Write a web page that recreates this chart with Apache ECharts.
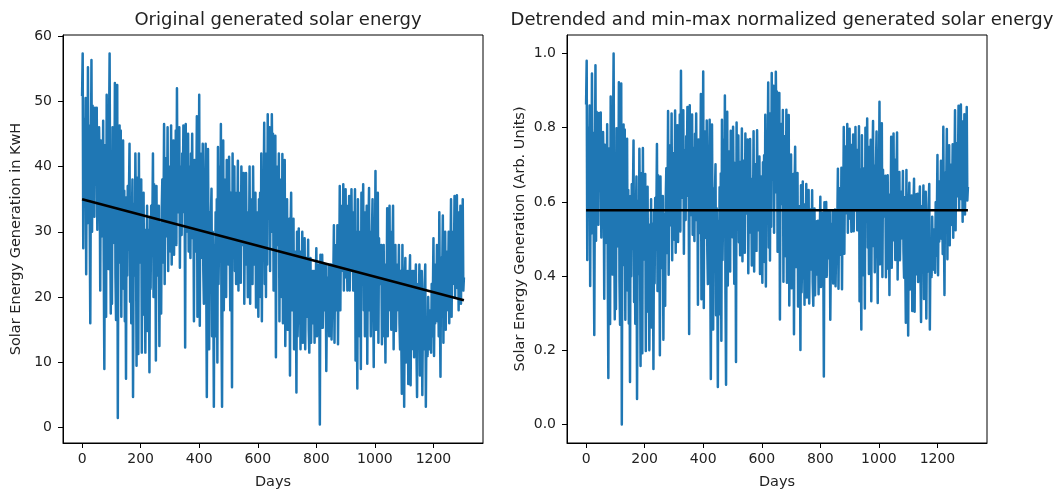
<!DOCTYPE html>
<html>
<head>
<meta charset="utf-8">
<script src="https://cdn.jsdelivr.net/npm/echarts@6/dist/echarts.min.js"></script>
<style>
  html, body { margin: 0; padding: 0; background: #ffffff; }
  #chart { width: 1053px; height: 495px; }
</style>
</head>
<body>
<div id="chart"></div>
<script>
// Panel texts
const panelTitles = ['Original generated solar energy', 'Detrended and min-max normalized generated solar energy'];
const xAxisName = 'Days';
const yAxisNames = ['Solar Energy Generation in KwH', 'Solar Energy Generation (Arb. Units)'];

// Tick labels
const dayTicks = [0, 200, 400, 600, 800, 1000, 1200];
const kwhTicks = [0, 10, 20, 30, 40, 50, 60];
const normTicks = [0, 0.2, 0.4, 0.6, 0.8, 1.0];

// Daily generation (KwH), one reading every second day starting at day 0
const dayStep = 2;
const generatedKwh = [
  50.8, 57.3, 27.5, 47.3, 37.3,   34.3, 50.5, 23.5, 45.3, 31.3,   55.2, 35.3, 46.3, 31.3, 16,   39.3, 56.3, 30, 49.3, 36.3,   45.3, 32.3, 49, 37.3, 42,
  49, 30.3, 41.3, 34.3, 46,   39.3, 21, 44, 29.3, 35.3,   31.3, 47, 25.3, 9, 37.3,   43.3, 17, 51, 26.3, 34.3,   24.3, 45.3, 57.3, 31.3, 17.5,
  39.3, 19, 46, 28.3, 36.3,   31.3, 52.8, 23.3, 16.5, 41.3,   52.5, 1.5, 34.3, 25.3, 46.3,   29.3, 45.5, 17, 37.3, 32.3,   44, 21.3, 36.3, 16.3, 31.3,
  7.5, 35.3, 23.3, 37, 27.3,   35.3, 43.5, 19.3, 30.3, 16,   31.3, 38, 4.7, 26.3, 34.3,   23.3, 42, 31.3, 9.5, 37.3,   38.3, 11.3, 42, 25.3, 31.3,
  29.3, 38, 11.5, 34.3, 21.3,   36, 17.3, 30.3, 11.5, 25.3,   23.3, 34, 14.8, 30.3, 28.3,   8.5, 32.3, 21.3, 34, 26.3,   31.3, 42, 20, 37.3, 27.3,
  34.3, 10.3, 37, 23.3, 29.3,   26.3, 34, 12.5, 31.3, 21.3,   17.5, 33.3, 38, 25.3, 31.3,   46.5, 22, 36.3, 29.3, 41.3,   31.3, 46, 24, 39.3, 35.3,
  40, 27, 46.3, 25, 36,   34, 44, 26.5, 38, 31,   45.5, 28, 52, 33, 38,   35, 46, 24.5, 40, 30,   29.5, 42, 36, 46.3, 33,
  40, 12.3, 46.5, 30, 36,   33, 45, 27, 40, 30,   26, 42, 34, 45, 29,   38, 16.3, 41, 27, 33,   35, 47.7, 17, 40, 29,
  51, 15.6, 42, 26, 35,   30, 43.5, 24, 19, 38,   36, 43.5, 23, 4.7, 30,   42.7, 25, 12, 33, 28,   28, 36.6, 14, 30, 22,
  3.2, 28, 20, 33, 14,   35, 10, 43, 22, 30,   40, 28, 46.5, 16.8, 3.2,   30, 44, 18, 36, 24,   38, 20, 41, 26, 33,
  25, 41.5, 30, 18, 36,   33, 6.2, 42, 26, 38,   40, 24, 36, 22, 31,   29, 40.9, 21, 36, 32,   36, 22.2, 40, 28, 33,
  30, 39, 19, 34, 26,   39, 25, 33, 20, 30,   27, 40, 19, 35, 31,   35, 22, 40, 29, 25,   30, 36, 18.4, 33, 22,
  25, 17, 35, 30, 36,   20, 42, 16.3, 33, 28,   35, 46.7, 22, 40, 20,   42, 25, 48, 32, 38,   46, 24, 42, 30, 48,
  38, 45, 21, 33, 40,   44.7, 10.8, 35, 28, 40,   30, 42, 16.3, 36, 26,   38, 20, 41.9, 16, 30,   34, 41, 12.5, 26, 30,
  35, 15, 29, 22, 32,   8, 30, 36, 18, 24,   22, 32, 12, 27, 18,   25, 5.4, 30, 14, 20,   30.5, 16, 24, 12, 27,
  18, 30, 13, 24, 28,   29, 12, 22, 26, 17,   20, 28.8, 15, 11.5, 24,   26, 13, 21, 17, 24,   16, 24, 13, 20, 22,
  27.5, 14, 22, 18.9, 25,   20, 0.5, 26.5, 15.3, 23,   26.5, 15.3, 22, 18, 25,   20, 25, 8.7, 18, 23,   16, 25, 14, 22, 19,
  25, 13.5, 20, 17, 23,   31, 13, 25, 20, 28,   18, 31, 12.8, 26, 22,   37, 18, 30, 24, 34,   25, 37.3, 21, 33, 29,
  36.5, 23, 30, 21, 34,   26, 35.5, 21, 32, 28,   36.5, 24, 30, 21, 33,   28, 36.5, 10.3, 30, 22,   6, 35, 20, 28, 14,
  30, 9, 36, 22, 26,   37.3, 18, 30, 14, 33,   25, 34, 9.8, 28, 30,   36.7, 18, 30, 14, 27,   30, 35, 22, 9.3, 28,
  25, 39.3, 15, 32, 29,   36, 13, 29, 22, 26,   24, 28, 12.8, 20, 26,   28, 14, 22, 10, 25,   20, 33.6, 14, 28, 24,
  34, 18, 28, 15, 30,   27, 34, 12, 24, 20,   28, 14.8, 22, 18, 25,   20, 28, 16, 12, 24,   24, 5.2, 28, 15, 20,
  3.2, 22, 26, 10, 16,   18, 24, 6.7, 15, 22,   26.4, 6.5, 20, 12, 24,   16, 24, 10.8, 20, 22,   25, 12, 4.7, 20, 22,
  18, 25, 8, 22, 14,   24, 5, 18, 12, 20,   20, 25, 3.2, 15, 12,   11, 20, 14, 18, 12,   18, 11.5, 22, 14, 20,
  29, 11, 22, 16, 25,   20, 28, 16.3, 24, 14,   33, 18, 7.8, 26, 22,   24, 32.5, 13, 28, 20,   30, 15, 24, 18, 27,
  22, 30, 16, 28, 25,   35, 17, 28, 22, 30,   26, 35.5, 20, 32, 28,   35.6, 21.4, 30, 18, 33,   25, 34, 19, 30, 23,
  35, 21, 23
];

// ---- least-squares linear trend, detrending and min-max scaling ----
const days = generatedKwh.map((_, i) => i * dayStep);
const n = days.length;
const meanDay = days.reduce((a, b) => a + b, 0) / n;
const meanKwh = generatedKwh.reduce((a, b) => a + b, 0) / n;
let sxy = 0, sxx = 0;
for (let i = 0; i < n; i++) {
  sxy += (days[i] - meanDay) * (generatedKwh[i] - meanKwh);
  sxx += (days[i] - meanDay) * (days[i] - meanDay);
}
const slope = sxy / sxx;
const intercept = meanKwh - slope * meanDay;
const trendAt = d => intercept + slope * d;

const residuals = days.map((d, i) => generatedKwh[i] - trendAt(d));
const rMin = Math.min(...residuals);
const rMax = Math.max(...residuals);
const normalized = residuals.map(r => (r - rMin) / (rMax - rMin));
const normalizedTrend = (0 - rMin) / (rMax - rMin);

const firstDay = days[0];
const lastDay = days[n - 1];

// axis limits with a 5% margin around the data
const pad = (lo, hi) => [lo - 0.05 * (hi - lo), hi + 0.05 * (hi - lo)];
const [xMin, xMax] = pad(firstDay, lastDay);
const [kMin, kMax] = pad(Math.min(...generatedKwh), Math.max(...generatedKwh));
const [nMin, nMax] = pad(0, 1);

// ---- chart ----
const FONT = 'DejaVu Sans';
const TEXT = '#222222';
const BLUE = '#1f77b4';

const grids = [
  { left: 63, top: 35, width: 420, height: 411 },
  { left: 567, top: 35, width: 420, height: 411 }
];

function xAxisFor(gridIndex) {
  return {
    type: 'value', gridIndex, min: xMin, max: xMax,
    name: xAxisName, nameLocation: 'middle', nameGap: 32,
    nameTextStyle: { color: TEXT, fontSize: 14.5, fontFamily: FONT },
    axisLine: { show: true, onZero: false, lineStyle: { color: '#000', width: 1 } },
    axisTick: { show: true, inside: false, length: 5, customValues: dayTicks, lineStyle: { color: '#000', width: 1 } },
    axisLabel: { customValues: dayTicks, color: TEXT, fontSize: 14, fontFamily: FONT, margin: 9, formatter: v => String(v) },
    splitLine: { show: false }
  };
}

function yAxisFor(gridIndex, min, max, ticks, name, fmt) {
  return {
    type: 'value', gridIndex, min, max,
    name, nameLocation: 'middle', nameGap: 39, nameRotate: 90,
    nameTextStyle: { color: TEXT, fontSize: 14.5, fontFamily: FONT },
    axisLine: { show: true, onZero: false, lineStyle: { color: '#000', width: 1 } },
    axisTick: { show: true, inside: false, length: 5, customValues: ticks, lineStyle: { color: '#000', width: 1 } },
    axisLabel: { customValues: ticks, color: TEXT, fontSize: 14, fontFamily: FONT, margin: 11, formatter: fmt },
    splitLine: { show: false }
  };
}

const option = {
  backgroundColor: '#ffffff',
  animation: false,
  title: [
    { text: panelTitles[0], left: 273, top: 6, textAlign: 'center',
      textStyle: { color: TEXT, fontSize: 18, fontWeight: 'normal', fontFamily: FONT } },
    { text: panelTitles[1], left: 777, top: 6, textAlign: 'center',
      textStyle: { color: TEXT, fontSize: 18, fontWeight: 'normal', fontFamily: FONT } }
  ],
  grid: grids.map(g => Object.assign({ show: true, borderColor: '#000', borderWidth: 1, backgroundColor: 'transparent' }, g)),
  xAxis: [xAxisFor(0), xAxisFor(1)],
  yAxis: [
    yAxisFor(0, kMin, kMax, kwhTicks, yAxisNames[0], v => String(Math.round(v))),
    yAxisFor(1, nMin, nMax, normTicks, yAxisNames[1], v => v.toFixed(1))
  ],
  series: [
    {
      type: 'line', xAxisIndex: 0, yAxisIndex: 0,
      data: days.map((d, i) => [d, generatedKwh[i]]),
      showSymbol: false, symbol: 'none', silent: true, z: 2,
      lineStyle: { color: BLUE, width: 2.5, join: 'round' }
    },
    {
      type: 'line', xAxisIndex: 0, yAxisIndex: 0,
      data: [[firstDay, trendAt(firstDay)], [lastDay, trendAt(lastDay)]],
      showSymbol: false, symbol: 'none', silent: true, z: 3,
      lineStyle: { color: '#000', width: 2.5 }
    },
    {
      type: 'line', xAxisIndex: 1, yAxisIndex: 1,
      data: days.map((d, i) => [d, normalized[i]]),
      showSymbol: false, symbol: 'none', silent: true, z: 2,
      lineStyle: { color: BLUE, width: 2.5, join: 'round' }
    },
    {
      type: 'line', xAxisIndex: 1, yAxisIndex: 1,
      data: [[firstDay, normalizedTrend], [lastDay, normalizedTrend]],
      showSymbol: false, symbol: 'none', silent: true, z: 3,
      lineStyle: { color: '#000', width: 2.5 }
    }
  ]
};

const chart = echarts.init(document.getElementById('chart'), null, { renderer: 'canvas' });
chart.setOption(option);
</script>
</body>
</html>
